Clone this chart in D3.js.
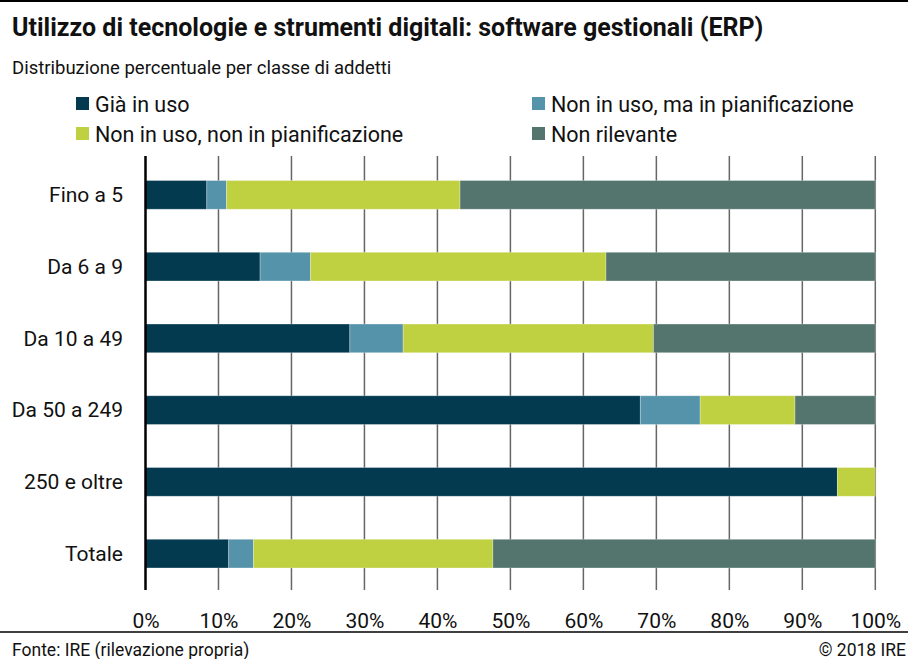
<!DOCTYPE html>
<html>
<head>
<meta charset="utf-8">
<script src="https://cdn.jsdelivr.net/npm/d3@7"></script>
<style>
  body { margin: 0; background: #fff; }
  svg { display: block; }
  text { font-family: "Roboto", sans-serif; fill: #111; }
</style>
</head>
<body>
<div id="viz"></div>
<script>
// data
let categories = ["Fino a 5", "Da 6 a 9", "Da 10 a 49", "Da 50 a 249", "250 e oltre", "Totale"];
let seriesNames = ["Già in uso", "Non in uso, ma in pianificazione", "Non in uso, non in pianificazione", "Non rilevante"];
let giaInUso = [8.4, 15.7, 28.0, 67.8, 94.8, 11.4];
let inPianificazione = [2.7, 6.9, 7.3, 8.2, 0, 3.4];
let nonPianificazione = [32.0, 40.5, 34.3, 13.0, 5.2, 32.8];
let nonRilevante = [56.9, 36.9, 30.4, 11.0, 0, 52.4];
let tickValues = [0, 10, 20, 30, 40, 50, 60, 70, 80, 90, 100];

let colours = ["#033a4f", "#5593ab", "#bfd041", "#53756e"];

let width = 908;
let height = 659;

// build rows for the stack
let rows = categories.map((c, i) => ({
  cat: c,
  s0: giaInUso[i],
  s1: inPianificazione[i],
  s2: nonPianificazione[i],
  s3: nonRilevante[i],
}));

let stack = d3.stack().keys(["s0", "s1", "s2", "s3"]);
let series = stack(rows);

let x = d3.scaleLinear().domain([0, 100]).range([145.5, 875.3]);
let y = d3.scaleBand().domain(categories).range([159, 589.5]).paddingInner(0.6).paddingOuter(0.3);

let svg = d3
  .select("#viz")
  .append("svg")
  .attr("width", width)
  .attr("height", height);

// top rule
svg.append("line")
  .attr("x1", 0).attr("x2", width)
  .attr("y1", 1).attr("y2", 1)
  .attr("stroke", "#000").attr("stroke-width", 2);

// title + subtitle
svg.append("text")
  .attr("x", 12).attr("y", 36)
  .attr("font-size", 25)
  .attr("font-weight", "bold")
  .text("Utilizzo di tecnologie e strumenti digitali: software gestionali (ERP)");

svg.append("text")
  .attr("x", 12).attr("y", 74)
  .attr("font-size", 18.5)
  .text("Distribuzione percentuale per classe di addetti");

// legend
let legendPos = [[76, 104], [532, 104], [76, 134], [532, 134]];
let legend = svg.append("g")
  .selectAll("g")
  .data(seriesNames)
  .join("g")
  .attr("transform", (d, i) => `translate(${legendPos[i][0]},${legendPos[i][1]})`);

legend.append("rect")
  .attr("x", 0).attr("y", -7)
  .attr("width", 13).attr("height", 13)
  .attr("fill", (d, i) => colours[i]);

legend.append("text")
  .attr("x", 19).attr("y", 7.5)
  .attr("font-size", 21.5)
  .text((d) => d);

// gridlines
svg.append("g")
  .selectAll("line")
  .data(tickValues.slice(1))
  .join("line")
  .attr("x1", (d) => x(d)).attr("x2", (d) => x(d))
  .attr("y1", 156).attr("y2", 590)
  .attr("stroke", "#666")
  .attr("stroke-width", 1.5);

// bars
svg.append("g")
  .selectAll("g")
  .data(series)
  .join("g")
  .attr("fill", (d, i) => colours[i])
  .selectAll("rect")
  .data((d) => d)
  .join("rect")
  .attr("x", (d) => x(d[0]))
  .attr("width", (d) => x(d[1]) - x(d[0]))
  .attr("y", (d) => y(d.data.cat))
  .attr("height", y.bandwidth())
  .attr("stroke", "#fff")
  .attr("stroke-opacity", 0.35)
  .attr("stroke-width", 0.8);

// y axis line
svg.append("line")
  .attr("x1", x(0)).attr("x2", x(0))
  .attr("y1", 156).attr("y2", 590)
  .attr("stroke", "#000")
  .attr("stroke-width", 2.5);

// category labels
svg.append("g")
  .selectAll("text")
  .data(categories)
  .join("text")
  .attr("x", 123)
  .attr("y", (d) => y(d) + y.bandwidth() / 2)
  .attr("dy", "0.35em")
  .attr("text-anchor", "end")
  .attr("font-size", 21)
  .text((d) => d);

// x tick labels
let xAxis = d3.axisBottom(x).tickValues(tickValues).tickFormat((d) => d + "%").tickSize(0).tickPadding(0);
let gx = svg.append("g")
  .attr("transform", "translate(0,613)")
  .call(xAxis);
gx.select(".domain").remove();
gx.selectAll("text")
  .attr("font-size", 21)
  .attr("fill", "#111")
  .style("font-family", "Roboto, sans-serif");

// bottom rule
svg.append("line")
  .attr("x1", 0).attr("x2", width)
  .attr("y1", 632).attr("y2", 632)
  .attr("stroke", "#000").attr("stroke-width", 1.5);

// footer
svg.append("text")
  .attr("x", 12).attr("y", 656)
  .attr("font-size", 17.5)
  .text("Fonte: IRE (rilevazione propria)");

svg.append("text")
  .attr("x", 906).attr("y", 656)
  .attr("text-anchor", "end")
  .attr("font-size", 17.5)
  .text("© 2018 IRE");
</script>
</body>
</html>
